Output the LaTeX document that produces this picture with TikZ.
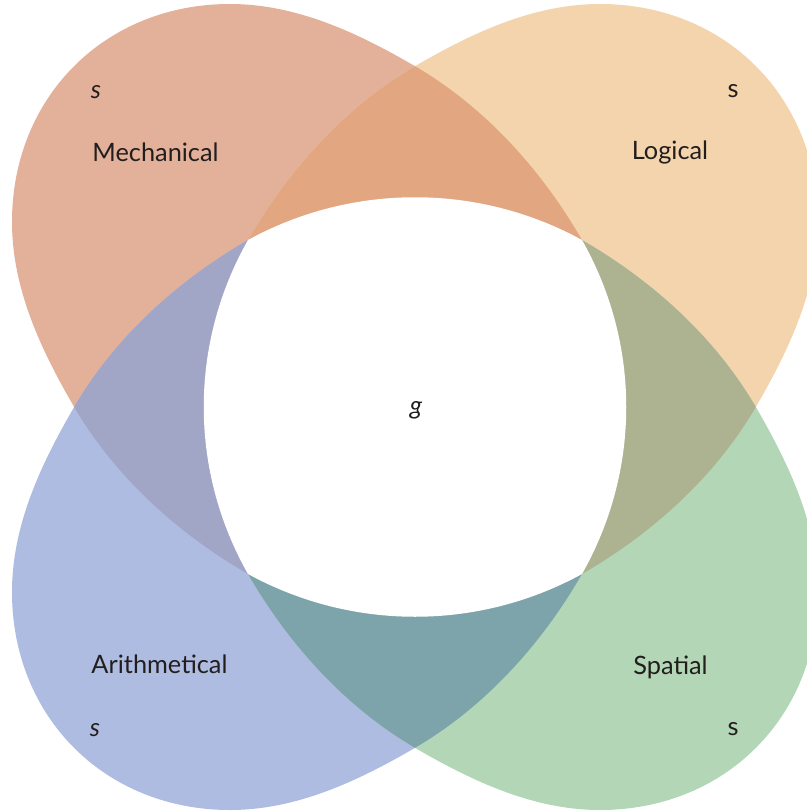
\documentclass[tikz,border=0pt]{standalone}
\usepackage{fontspec}
\setmainfont{Lato}

\definecolor{mechfill}{RGB}{227,176,153}
\definecolor{logifill}{RGB}{243,212,172}
\definecolor{arithfill}{RGB}{174,188,225}
\definecolor{spatfill}{RGB}{178,214,182}
\definecolor{mechlogi}{RGB}{226,166,128}
\definecolor{mecharith}{RGB}{161,166,199}
\definecolor{logispat}{RGB}{173,179,145}
\definecolor{arithspat}{RGB}{124,164,170}
\definecolor{inkdark}{RGB}{35,30,30}

\tikzset{every picture/.style={line width=0.75pt}}

\newcommand{\mechpath}{(582,240) .. controls (541,169) and (484,106) .. (413,65) .. controls (356,32) and (295.5,4) .. (230,4) .. controls (105,4) and (12,97) .. (12,222) .. controls (12,287.5) and (40,348) .. (73,405) .. controls (114,476) and (177,533) .. (248,574) -- (415,407) -- cycle}
\newcommand{\logipath}{(248,240) .. controls (289,169) and (346,106) .. (417,65) .. controls (474,32) and (534.5,4) .. (600,4) .. controls (725,4) and (818,97) .. (818,222) .. controls (818,287.5) and (790,348) .. (757,405) .. controls (716,476) and (653,533) .. (582,574) -- (415,407) -- cycle}
\newcommand{\arithpath}{(582,574) .. controls (541,645) and (484,708) .. (413,749) .. controls (356,782) and (295.5,810) .. (230,810) .. controls (105,810) and (12,717) .. (12,592) .. controls (12,526.5) and (40,466) .. (73,409) .. controls (114,338) and (177,281) .. (248,240) -- (415,407) -- cycle}
\newcommand{\spatpath}{(248,574) .. controls (289,645) and (346,708) .. (417,749) .. controls (474,782) and (534.5,810) .. (600,810) .. controls (725,810) and (818,717) .. (818,592) .. controls (818,526.5) and (790,466) .. (757,409) .. controls (716,338) and (653,281) .. (582,240) -- (415,407) -- cycle}

\begin{document}
\begin{tikzpicture}[x=0.75pt,y=0.75pt,yscale=-1,xscale=1,
  txt/.style={inner sep=0.75pt,font=\fontsize{19}{23}\selectfont,text=inkdark}]
\useasboundingbox (0,0) rectangle (807,811);
\clip (0,0) rectangle (807,811);

%Shape: Mechanical petal
\fill [mechfill] \mechpath ;
%Shape: Logical petal
\fill [logifill] \logipath ;
%Shape: Arithmetical petal
\fill [arithfill] \arithpath ;
%Shape: Spatial petal
\fill [spatfill] \spatpath ;

%Overlap: Mechanical and Logical
\begin{scope}
\clip \mechpath ;
\fill [mechlogi] \logipath ;
\end{scope}
%Overlap: Mechanical and Arithmetical
\begin{scope}
\clip \mechpath ;
\fill [mecharith] \arithpath ;
\end{scope}
%Overlap: Logical and Spatial
\begin{scope}
\clip \logipath ;
\fill [logispat] \spatpath ;
\end{scope}
%Overlap: Arithmetical and Spatial
\begin{scope}
\clip \arithpath ;
\fill [arithspat] \spatpath ;
\end{scope}

%Shape: centre
\fill [white] (248,240) .. controls (352,183) and (478,183) .. (582,240) .. controls (641,344) and (641,470) .. (582,574) .. controls (478,631) and (352,631) .. (248,574) .. controls (189,470) and (189,344) .. cycle ;

% Text Node
\draw (155.5,161) node [anchor=base][txt] (mech) {Mechanical};
% Text Node
\draw (670,159) node [anchor=base][txt] (logi) {Logical};
% Text Node
\draw (159.5,673) node [anchor=base][txt] (arith) {Arithmetical};
% Text Node
\draw (670.5,674) node [anchor=base][txt] (spat) {Spatial};
% Text Node
\draw (96,98) node [anchor=base][txt] (mechs) {\itshape s};
% Text Node
\draw (733,97) node [anchor=base][txt] (logis) {s};
% Text Node
\draw (95,736) node [anchor=base][txt] (ariths) {\itshape s};
% Text Node
\draw (733,735) node [anchor=base][txt] (spats) {s};
% Text Node
\draw (416,414) node [anchor=base][txt] (gen) {\itshape g};

\end{tikzpicture}
\end{document}
